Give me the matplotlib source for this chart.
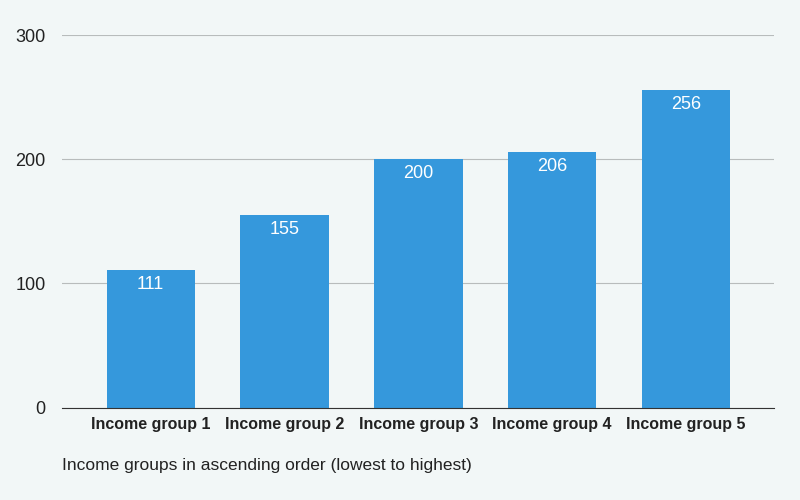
import matplotlib.pyplot as plt

categories = ["Income group 1", "Income group 2", "Income group 3", "Income group 4", "Income group 5"]
values = [111, 155, 200, 206, 256]
y_ticks = [0, 100, 200, 300]

bg = "#f2f7f7"
fig = plt.figure(figsize=(8, 5), dpi=100, facecolor=bg)
ax = fig.add_axes([0.078, 0.185, 0.89, 0.745], facecolor=bg)

bars = ax.bar(categories, values, width=0.66, color="#3598dc", zorder=2)
for b, v in zip(bars, values):
    ax.text(b.get_x() + b.get_width() / 2, v - 5, str(v), ha="center", va="top",
            color="white", fontsize=13, family="Liberation Sans")

ax.set_ylim(0, 300)
ax.set_xlim(-0.66, 4.66)
ax.set_yticks(y_ticks)
ax.set_yticklabels([str(t) for t in y_ticks], fontsize=13, family="Liberation Sans", color="#222222")
ax.grid(axis="y", color="#b8bcbc", linewidth=0.8, zorder=0)
ax.tick_params(length=0)
ax.tick_params(axis="y", pad=12)
ax.tick_params(axis="x", pad=7)
for lbl in ax.get_xticklabels():
    lbl.set_fontweight("bold")
    lbl.set_family("Liberation Sans")
    lbl.set_fontsize(11.5)
    lbl.set_color("#222222")
for s in ["top", "right", "left"]:
    ax.spines[s].set_visible(False)
ax.spines["bottom"].set_color("#333333")

fig.text(0.078, 0.06, "Income groups in ascending order (lowest to highest)", fontsize=12.5,
         family="Liberation Sans", color="#222222")

fig.savefig("out.png", facecolor=bg)
